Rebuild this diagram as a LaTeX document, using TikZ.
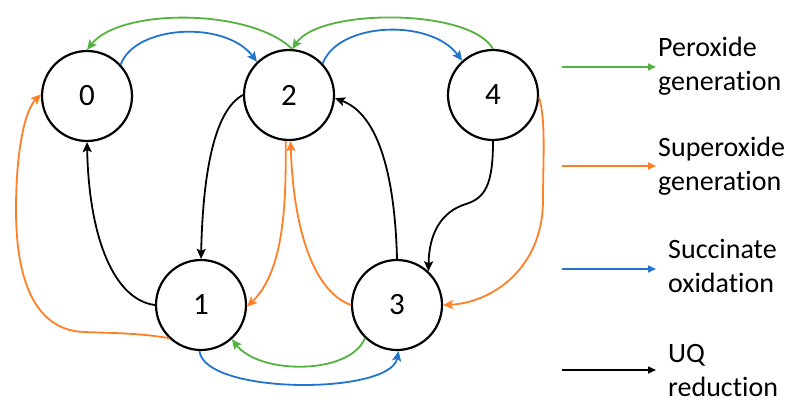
\documentclass[tikz,border=0pt]{standalone}
\usepackage{fontspec}
\setmainfont{Carlito}[RawFeature=-liga]
\usetikzlibrary{arrows.meta}
\definecolor{cgreen}{RGB}{84,178,62}
\definecolor{corange}{RGB}{255,127,39}
\definecolor{cblue}{RGB}{33,117,204}
\begin{document}
\begin{tikzpicture}[x=1pt,y=-1pt,
  state/.style={circle,draw=black,line width=2.2pt,minimum size=90pt,inner sep=0pt,font=\fontsize{31}{31}\selectfont},
  edge/.style={line width=1.8pt,-{Stealth[length=10pt,width=9pt,inset=2pt]}},
  leg/.style={line width=1.6pt,-{Triangle[length=8pt,width=7pt]}},
  legtext/.style={anchor=west,align=left,font=\fontsize{28}{34}\selectfont,inner sep=0pt}]
\useasboundingbox (0,0) rectangle (799,412);

% states
\node[state] (n0) at (87,96) {0};
\node[state] (n2) at (289,95) {2};
\node[state] (n4) at (493,95) {4};
\node[state] (n1) at (201,305) {1};
\node[state] (n3) at (397,305) {3};

% top arcs
\draw[edge,cgreen] (n2.86) .. controls (250,8) and (120,8) .. (n0.90);
\draw[edge,cgreen] (n4.90) .. controls (470,8) and (320,8) .. (n2.86);
\draw[edge,cblue] (n0.43) .. controls (135,25) and (225,20) .. (n2.134);
\draw[edge,cblue] (n2.43) .. controls (338,22) and (430,18) .. (n4.132);

% black (UQ reduction)
\draw[edge,black] (n1.180) .. controls (115,300) and (89,240) .. (n0.270);
\draw[edge,black] (n2.180) .. controls (215,110) and (203,170) .. (n1.90);
\draw[edge,black] (n3.90) .. controls (395,180) and (380,115) .. (n2.-4);
\coordinate (w) at (466,204);
\draw[edge,black] (n4.270) .. controls (493,185) and (485,198) .. (w)
  .. controls (440,212) and (429,235) .. (n3.47);

% orange (superoxide)
\coordinate (o1) at (84,332);
\coordinate (o2) at (16,210);
\draw[edge,corange] (n1.226) .. controls (140,333) and (110,333) .. (o1)
  .. controls (30,330) and (16,270) .. (o2)
  .. controls (16,150) and (25,110) .. (n0.178);
\draw[edge,corange] (n2.266) .. controls (286,200) and (285,270) .. (n1.358);
\draw[edge,corange] (n3.180) .. controls (310,290) and (293,220) .. (n2.272);
\coordinate (o3) at (543,200);
\draw[edge,corange] (n4.-3) .. controls (546,120) and (543,160) .. (o3)
  .. controls (543,270) and (490,303) .. (n3.0);

% bottom arcs
\draw[edge,cgreen] (n3.226) .. controls (350,375) and (260,375) .. (n1.312);
\draw[edge,cblue] (n1.268) .. controls (205,395) and (390,395) .. (n3.272);

% legend
\coordinate (ga) at (562,67);  \coordinate (gb) at (656,67);
\coordinate (oa) at (562,166); \coordinate (ob) at (656,166);
\coordinate (ba) at (562,269); \coordinate (bb) at (656,269);
\coordinate (ka) at (562,370); \coordinate (kb) at (656,370);
\draw[leg,cgreen] (ga) -- (gb);
\draw[leg,corange] (oa) -- (ob);
\draw[leg,cblue] (ba) -- (bb);
\draw[leg,black] (ka) -- (kb);
\node[legtext] (tg) at (658,66) {Peroxide\\generation};
\node[legtext] (to) at (658,166) {Superoxide\\generation};
\node[legtext] (tb) at (668,266) {Succinate\\oxidation};
\node[legtext] (tk) at (668,371) {UQ\\reduction};
\end{tikzpicture}
\end{document}
